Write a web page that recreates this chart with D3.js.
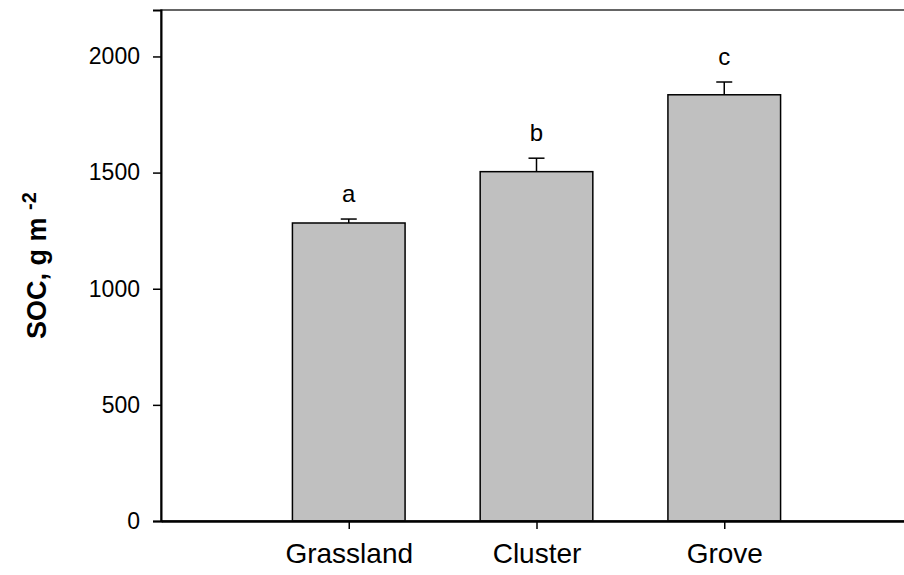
<!DOCTYPE html>
<html>
<head>
<meta charset="utf-8">
<script src="https://cdn.jsdelivr.net/npm/d3@7"></script>
<style>
  body { margin: 0; background: #fff; }
  svg { display: block; font-family: "Liberation Sans", Arial, sans-serif; }
</style>
</head>
<body>
<div id="chart"></div>
<script>
// data
const sites = ["Grassland", "Cluster", "Grove"];
const socMean = [1283, 1504, 1835];
const socErr = [17, 58, 55];
const letters = ["a", "b", "c"];
const yTicks = [0, 500, 1000, 1500, 2000];

const width = 904, height = 575;
const margin = {top: 10, right: -8, bottom: 54, left: 161};

const svg = d3.select("#chart").append("svg")
    .attr("width", width)
    .attr("height", height);

// categories sit at 1,2,3 on a 0..4 axis (right edge runs off the page)
const x = d3.scaleLinear()
    .domain([0, sites.length + 1])
    .range([margin.left, width - margin.right]);

const y = d3.scaleLinear()
    .domain([0, 2200])
    .range([height - margin.bottom, margin.top]);

const barW = (x(1) - x(0)) * 0.6;

// bars
svg.append("g")
    .selectAll("rect")
    .data(sites)
    .enter().append("rect")
    .attr("x", (d, i) => x(i + 1) - barW / 2)
    .attr("y", (d, i) => y(socMean[i]))
    .attr("width", barW)
    .attr("height", (d, i) => y(0) - y(socMean[i]))
    .attr("fill", "#c0c0c0")
    .attr("stroke", "#000")
    .attr("stroke-width", 1.5);

// error bars (upper only)
const err = svg.append("g").attr("stroke", "#000").attr("stroke-width", 1.5);
sites.forEach((s, i) => {
    err.append("line")
        .attr("x1", x(i + 1)).attr("x2", x(i + 1))
        .attr("y1", y(socMean[i])).attr("y2", y(socMean[i] + socErr[i]));
    err.append("line")
        .attr("x1", x(i + 1) - 8).attr("x2", x(i + 1) + 8)
        .attr("y1", y(socMean[i] + socErr[i])).attr("y2", y(socMean[i] + socErr[i]));
});

// significance letters
svg.append("g")
    .selectAll("text")
    .data(letters)
    .enter().append("text")
    .attr("x", (d, i) => x(i + 1))
    .attr("y", (d, i) => y(socMean[i] + socErr[i]) - 17)
    .attr("text-anchor", "middle")
    .style("font-size", "24px")
    .text(d => d);

// frame (top and right sides)
svg.append("rect")
    .attr("x", x(0))
    .attr("y", y(2200))
    .attr("width", x(sites.length + 1) - x(0))
    .attr("height", y(0) - y(2200))
    .attr("fill", "none")
    .attr("stroke", "#333")
    .attr("stroke-width", 1.5);

// y axis
const yAxis = svg.append("g")
    .attr("transform", "translate(" + x(0) + ",0)")
    .call(d3.axisLeft(y).tickValues(yTicks).tickSize(8).tickPadding(13).tickFormat(d3.format("d")));
yAxis.select(".domain").attr("stroke-width", 2);
yAxis.selectAll(".tick line").attr("stroke-width", 1.5);
yAxis.selectAll("text")
    .style("font-size", "23px")
    .style("font-family", "Liberation Sans, Arial, sans-serif")
    .attr("fill", "#000");

// x axis
const xAxis = svg.append("g")
    .attr("transform", "translate(0," + y(0) + ")")
    .call(d3.axisBottom(x).tickValues(sites.map((d, i) => i + 1))
        .tickSize(8).tickPadding(14).tickFormat(d => sites[d - 1]).tickSizeOuter(0));
xAxis.select(".domain").attr("stroke-width", 2.5);
xAxis.selectAll(".tick line").attr("stroke-width", 1.5);
xAxis.selectAll("text")
    .style("font-size", "28px")
    .style("font-family", "Liberation Sans, Arial, sans-serif")
    .attr("fill", "#000");

// y title with superscript
const title = svg.append("text")
    .attr("transform", "translate(46," + (y(1100)) + ")rotate(-90)")
    .attr("text-anchor", "middle")
    .style("font-size", "27px")
    .style("font-weight", "bold");
title.append("tspan").text("SOC, g m ");
title.append("tspan")
    .attr("dy", "-0.5em")
    .style("font-size", "20px")
    .text("-2");
</script>
</body>
</html>
